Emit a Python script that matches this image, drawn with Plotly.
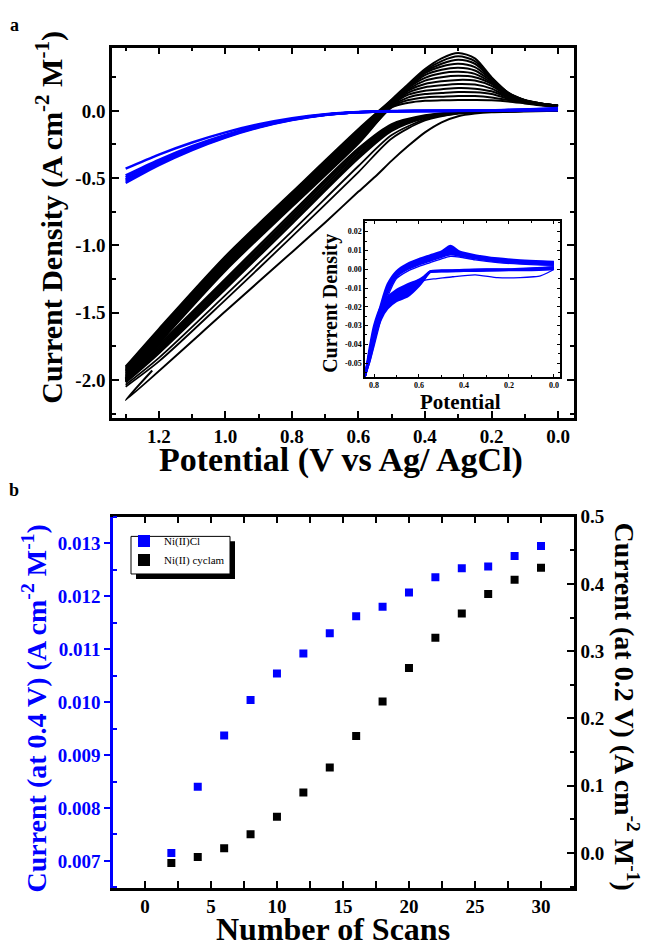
import plotly.graph_objects as go

# ---------------- Panel a : main CVs (Potential V vs Ag/AgCl, current density) ----------------
# Ni(II) cyclam return scans (band with anodic peaks), potential grid
VA = [1.30, 1.20, 1.00, 0.80, 0.60, 0.50, 0.45, 0.40, 0.35, 0.30, 0.25, 0.20, 0.15, 0.10, 0.05, 0.00]
cyc_return = [
    [-1.900, -1.620, -1.080, -0.605, -0.135, 0.085, 0.200, 0.310, 0.390, 0.430, 0.390, 0.250, 0.135, 0.080, 0.055, 0.040],
    [-1.909, -1.629, -1.089, -0.614, -0.144, 0.080, 0.190, 0.300, 0.370, 0.405, 0.370, 0.245, 0.135, 0.080, 0.055, 0.040],
    [-1.918, -1.638, -1.098, -0.623, -0.153, 0.075, 0.185, 0.290, 0.350, 0.380, 0.350, 0.240, 0.130, 0.080, 0.055, 0.040],
    [-1.927, -1.647, -1.107, -0.632, -0.162, 0.070, 0.180, 0.280, 0.330, 0.350, 0.325, 0.230, 0.130, 0.078, 0.053, 0.038],
    [-1.936, -1.656, -1.116, -0.641, -0.171, 0.065, 0.175, 0.265, 0.305, 0.320, 0.300, 0.220, 0.125, 0.077, 0.052, 0.037],
    [-1.945, -1.665, -1.125, -0.650, -0.180, 0.060, 0.170, 0.245, 0.280, 0.290, 0.275, 0.210, 0.120, 0.075, 0.050, 0.036],
    [-1.954, -1.674, -1.134, -0.659, -0.189, 0.055, 0.160, 0.225, 0.250, 0.260, 0.250, 0.200, 0.115, 0.072, 0.049, 0.035],
    [-1.963, -1.683, -1.143, -0.668, -0.198, 0.050, 0.150, 0.200, 0.220, 0.230, 0.225, 0.185, 0.110, 0.070, 0.048, 0.034],
    [-1.972, -1.692, -1.152, -0.677, -0.207, 0.045, 0.135, 0.175, 0.190, 0.200, 0.195, 0.165, 0.105, 0.068, 0.046, 0.033],
    [-1.981, -1.701, -1.161, -0.686, -0.216, 0.040, 0.120, 0.150, 0.160, 0.170, 0.165, 0.145, 0.100, 0.066, 0.045, 0.032],
    [-1.990, -1.710, -1.170, -0.695, -0.225, 0.035, 0.100, 0.125, 0.133, 0.140, 0.138, 0.125, 0.090, 0.063, 0.044, 0.031],
    [-1.999, -1.719, -1.179, -0.704, -0.234, 0.030, 0.080, 0.100, 0.105, 0.110, 0.110, 0.100, 0.080, 0.060, 0.043, 0.030],
    [-2.008, -1.728, -1.188, -0.713, -0.243, 0.025, 0.060, 0.075, 0.078, 0.080, 0.080, 0.078, 0.070, 0.055, 0.040, 0.030],
]
# Ni(II) cyclam forward scans (lower band: dense bundle + two thinner lines)
VB = [0.00, 0.10, 0.20, 0.30, 0.40, 0.50, 0.60, 0.80, 1.00, 1.20, 1.30]
cyc_forward = [
    [0.005, 0.002, -0.002, -0.010, -0.035, -0.100, -0.280, -0.758, -1.251, -1.740, -1.990],
    [0.004, 0.001, -0.003, -0.011, -0.040, -0.112, -0.298, -0.778, -1.269, -1.755, -1.997],
    [0.004, 0.001, -0.003, -0.012, -0.044, -0.124, -0.316, -0.798, -1.287, -1.770, -2.004],
    [0.003, 0.000, -0.004, -0.013, -0.048, -0.136, -0.334, -0.818, -1.305, -1.785, -2.011],
    [0.003, 0.000, -0.004, -0.014, -0.052, -0.148, -0.352, -0.838, -1.323, -1.800, -2.018],
    [0.001, -0.001, -0.005, -0.018, -0.064, -0.180, -0.410, -0.895, -1.370, -1.836, -2.036],
    [0.000, -0.002, -0.006, -0.021, -0.072, -0.205, -0.455, -0.935, -1.405, -1.862, -2.050],
]
# first scan of Ni(II) cyclam (out and partial return)
VC = [0.00, 0.10, 0.20, 0.25, 0.30, 0.35, 0.40, 0.45, 0.50, 0.55, 0.60, 0.70, 0.80, 1.00, 1.30, 1.22]
first_scan = [0.000, -0.004, -0.010, -0.020, -0.040, -0.085, -0.160, -0.260, -0.370, -0.490, -0.600, -0.830, -1.050, -1.490, -2.150, -1.930]
# Ni(II)Cl CVs in the main panel
VBl = [1.30, 1.20, 1.10, 1.00, 0.90, 0.80, 0.70, 0.60, 0.50, 0.40, 0.20, 0.00]
nicl_cycles = [
    [-0.430, -0.325, -0.235, -0.160, -0.100, -0.055, -0.025, -0.009, -0.002, 0.000, 0.002, 0.004],
    [-0.480, -0.364, -0.263, -0.179, -0.112, -0.062, -0.028, -0.010, -0.003, -0.001, 0.002, 0.006],
    [-0.495, -0.374, -0.270, -0.184, -0.115, -0.063, -0.029, -0.011, -0.003, -0.001, 0.003, 0.010],
    [-0.510, -0.384, -0.277, -0.189, -0.118, -0.065, -0.030, -0.011, -0.003, -0.001, 0.003, 0.014],
    [-0.520, -0.393, -0.284, -0.194, -0.121, -0.067, -0.030, -0.011, -0.003, -0.001, 0.003, 0.018],
    [-0.535, -0.403, -0.291, -0.198, -0.124, -0.068, -0.031, -0.011, -0.003, -0.001, 0.003, 0.022],
]

# ---------------- Inset : Ni(II)Cl CVs zoomed ----------------
VU = [0.84, 0.82, 0.80, 0.77, 0.74, 0.70, 0.65, 0.60, 0.55, 0.50, 0.46, 0.42, 0.35, 0.25, 0.15, 0.05, 0.00]
inset_upper = [
    [-0.057, -0.044, -0.033, -0.019, -0.008, -0.001, 0.003, 0.0055, 0.0075, 0.0095, 0.0125, 0.0095, 0.0075, 0.0058, 0.0048, 0.0042, 0.0040],
    [-0.057, -0.045, -0.035, -0.021, -0.010, -0.002, 0.002, 0.0045, 0.0065, 0.0085, 0.0110, 0.0088, 0.0070, 0.0053, 0.0043, 0.0037, 0.0035],
    [-0.057, -0.047, -0.037, -0.023, -0.011, -0.003, 0.001, 0.0035, 0.0055, 0.0075, 0.0095, 0.0080, 0.0063, 0.0047, 0.0038, 0.0032, 0.0030],
    [-0.057, -0.049, -0.039, -0.025, -0.013, -0.004, 0.000, 0.0025, 0.0045, 0.0065, 0.0078, 0.0072, 0.0057, 0.0041, 0.0033, 0.0027, 0.0025],
    [-0.057, -0.050, -0.041, -0.027, -0.015, -0.005, -0.001, 0.0015, 0.0035, 0.0055, 0.0068, 0.0065, 0.0050, 0.0035, 0.0027, 0.0022, 0.0020],
]
VL = [0.00, 0.10, 0.20, 0.30, 0.40, 0.50, 0.55, 0.58, 0.60, 0.65, 0.70, 0.74, 0.77, 0.80, 0.82, 0.84]
inset_lower = [
    [0.0010, 0.0005, 0.0000, 0.0000, -0.0003, -0.0006, -0.0010, -0.0040, -0.0055, -0.0080, -0.0110, -0.0150, -0.020, -0.030, -0.042, -0.057],
    [0.0010, 0.0003, -0.0002, -0.0002, -0.0005, -0.0008, -0.0012, -0.0045, -0.0065, -0.0098, -0.0130, -0.0170, -0.022, -0.032, -0.044, -0.057],
    [0.0010, 0.0000, -0.0003, -0.0004, -0.0007, -0.0010, -0.0014, -0.0050, -0.0075, -0.0115, -0.0145, -0.0185, -0.024, -0.034, -0.045, -0.057],
    [0.0005, -0.0003, -0.0004, -0.0006, -0.0009, -0.0011, -0.0015, -0.0055, -0.0085, -0.0130, -0.0160, -0.0200, -0.026, -0.036, -0.047, -0.057],
    [0.0000, -0.0005, -0.0005, -0.0008, -0.0010, -0.0012, -0.0016, -0.0060, -0.0090, -0.0145, -0.0170, -0.0210, -0.027, -0.038, -0.048, -0.057],
]
VF = [0.00, 0.03, 0.06, 0.09, 0.15, 0.25, 0.35, 0.45, 0.52, 0.56, 0.58]
inset_first = [0.0000, -0.0020, -0.0035, -0.0040, -0.0045, -0.0045, -0.0030, -0.0040, -0.0050, -0.0055, -0.0060]

# ---------------- Panel b : current vs number of scans ----------------
scans = [2, 4, 6, 8, 10, 12, 14, 16, 18, 20, 22, 24, 26, 28, 30]
nicl_current = [0.00715, 0.0084, 0.00937, 0.01004, 0.01054, 0.01092, 0.0113, 0.01162, 0.0118,
                0.01207, 0.01236, 0.01253, 0.01256, 0.01276, 0.01295]
cyclam_current = [-0.015, -0.006, 0.007, 0.028, 0.054, 0.090, 0.127, 0.174, 0.225,
                  0.275, 0.320, 0.356, 0.385, 0.406, 0.424]

# tick labels
a_xticks = [0.0, 0.2, 0.4, 0.6, 0.8, 1.0, 1.2]
a_xtext = ["0.0", "0.2", "0.4", "0.6", "0.8", "1.0", "1.2"]
a_yticks = [-2.0, -1.5, -1.0, -0.5, 0.0]
a_ytext = ["-2.0", "-1.5", "-1.0", "-0.5", "0.0"]
in_xticks = [0.0, 0.2, 0.4, 0.6, 0.8]
in_xtext = ["0.0", "0.2", "0.4", "0.6", "0.8"]
in_yticks = [-0.05, -0.04, -0.03, -0.02, -0.01, 0.0, 0.01, 0.02]
in_ytext = ["-0.05", "-0.04", "-0.03", "-0.02", "-0.01", "0.00", "0.01", "0.02"]
b_xticks = [0, 5, 10, 15, 20, 25, 30]
b_yticks_l = [0.007, 0.008, 0.009, 0.010, 0.011, 0.012, 0.013]
b_ytext_l = ["0.007", "0.008", "0.009", "0.010", "0.011", "0.012", "0.013"]
b_yticks_r = [0.0, 0.1, 0.2, 0.3, 0.4, 0.5]
b_ytext_r = ["0.0", "0.1", "0.2", "0.3", "0.4", "0.5"]

BLUE = "#0000FF"
FONT = "Liberation Serif"
W, H = 650, 947

def px(x):
    return x / W

def py(y):
    return 1 - y / H

fig = go.Figure()

def line_trace(xs, ys, color, width, ax, smoothing=0.8, fill=None):
    return go.Scatter(x=xs, y=ys, mode="lines",
                      line=dict(color=color, width=width, shape="spline", smoothing=smoothing),
                      fill=fill, fillcolor=color if fill else None,
                      showlegend=False, hoverinfo="skip", xaxis="x" + ax, yaxis="y" + ax)

# ----- panel a traces -----
for i, ys in enumerate(cyc_forward):
    fig.add_trace(line_trace(VB, ys, "black", 2.4 if i < 5 else 1.8, ""))
fig.add_trace(line_trace(VC, first_scan, "black", 2, "", smoothing=0.6))
for ys in cyc_return:
    fig.add_trace(line_trace(VA, ys, "black", 2, ""))
for ys in nicl_cycles:
    fig.add_trace(line_trace(VBl, ys, BLUE, 2.5, ""))

# ----- inset traces (bands filled between their outer cycles) -----
fig.add_trace(line_trace(VU, inset_upper[0], BLUE, 2, "2", 0.7))
fig.add_trace(line_trace(VU, inset_upper[3], BLUE, 2, "2", 0.7, fill="tonexty"))
for ys in (inset_upper[1], inset_upper[2]):
    fig.add_trace(line_trace(VU, ys, BLUE, 2, "2", 0.7))
fig.add_trace(line_trace(VU, inset_upper[4], BLUE, 1.3, "2", 0.7))
fig.add_trace(line_trace(VL, inset_lower[0], BLUE, 2, "2", 0.6))
fig.add_trace(line_trace(VL, inset_lower[4], BLUE, 2, "2", 0.6, fill="tonexty"))
for ys in inset_lower[1:4]:
    fig.add_trace(line_trace(VL, ys, BLUE, 2, "2", 0.6))
fig.add_trace(line_trace(VF, inset_first, BLUE, 1.3, "2", 0.6))

# ----- panel b traces -----
fig.add_trace(go.Scatter(x=scans, y=nicl_current, mode="markers", name="Ni(II)Cl",
                         marker=dict(symbol="square", size=8, color=BLUE), xaxis="x3", yaxis="y3"))
fig.add_trace(go.Scatter(x=scans, y=cyclam_current, mode="markers", name="Ni(II) cyclam",
                         marker=dict(symbol="square", size=8, color="black"), xaxis="x3", yaxis="y4"))

tickf = dict(family=FONT, size=19, color="black", weight="bold")
common = dict(showgrid=False, zeroline=False, showline=True, linecolor="black", linewidth=2.5,
              ticks="inside", ticklen=7, tickwidth=2, tickcolor="black")
inset_common = dict(showgrid=False, zeroline=False, showline=True, linecolor="black", linewidth=1.5,
                    ticks="inside", ticklen=3, tickwidth=1, tickcolor="black",
                    tickfont=dict(family=FONT, size=8, color="black", weight="bold"))

fig.update_layout(
    width=W, height=H, margin=dict(l=0, r=0, t=0, b=0),
    paper_bgcolor="white", plot_bgcolor="white",
    xaxis=dict(domain=[px(112), px(574)], range=[1.341, -0.048], anchor="y", mirror="allticks",
               tickmode="array", tickvals=a_xticks, ticktext=a_xtext, tickfont=tickf,
               minor=dict(tickmode="linear", tick0=0.1, dtick=0.2, ticks="inside", ticklen=4, tickwidth=2, tickcolor="black"),
               **common),
    yaxis=dict(domain=[py(412), py(38)], range=[-2.28, 0.47], anchor="x", mirror="allticks",
               tickmode="array", tickvals=a_yticks, ticktext=a_ytext, tickfont=tickf,
               minor=dict(tickmode="linear", tick0=-0.25, dtick=0.5, ticks="inside", ticklen=4, tickwidth=2, tickcolor="black"),
               **common),
    xaxis2=dict(domain=[px(365), px(560)], range=[0.84, -0.027], anchor="y2", mirror="allticks",
                tickmode="array", tickvals=in_xticks, ticktext=in_xtext,
                minor=dict(tickmode="linear", tick0=0.1, dtick=0.2, ticks="inside", ticklen=2, tickwidth=1, tickcolor="black"),
                ticklabelstandoff=0, **inset_common),
    yaxis2=dict(domain=[py(371), py(213)], range=[-0.0574, 0.0258], anchor="x2", mirror="allticks",
                tickmode="array", tickvals=in_yticks, ticktext=in_ytext,
                minor=dict(tickmode="linear", tick0=0.005, dtick=0.01, ticks="inside", ticklen=2, tickwidth=1, tickcolor="black"),
                **inset_common),
    xaxis3=dict(domain=[px(113), px(574)], range=[-2.42, 32.5], anchor="y3", mirror="allticks",
                tickmode="array", tickvals=b_xticks, tickfont=tickf,
                minor=dict(tickmode="linear", tick0=2.5, dtick=5, ticks="inside", ticklen=4, tickwidth=2, tickcolor="black"),
                **common),
    yaxis3=dict(domain=[py(887), py(512)], range=[0.006495, 0.013505], anchor="x3", mirror=False,
                tickmode="array", tickvals=b_yticks_l, ticktext=b_ytext_l,
                tickfont=dict(family=FONT, size=19, color=BLUE, weight="bold"),
                minor=dict(tickmode="linear", tick0=0.0065, dtick=0.001, ticks="inside", ticklen=4, tickwidth=2, tickcolor=BLUE),
                showgrid=False, zeroline=False, showline=True, linecolor=BLUE, linewidth=2.5,
                ticks="outside", ticklen=6, tickwidth=2, tickcolor=BLUE),
    yaxis4=dict(domain=[py(887), py(512)], range=[-0.0515, 0.5], anchor="x3", overlaying="y3", side="right",
                tickmode="array", tickvals=b_yticks_r, ticktext=b_ytext_r, tickfont=tickf,
                minor=dict(tickmode="linear", tick0=0.05, dtick=0.1, ticks="inside", ticklen=4, tickwidth=2, tickcolor="black"),
                **common),
    legend=dict(x=px(124), y=py(522), xanchor="left", yanchor="top", bgcolor="rgba(0,0,0,0)",
                borderwidth=0, font=dict(family=FONT, size=11, color="black"),
                tracegroupgap=0, itemsizing="constant", traceorder="normal"),
    showlegend=True,
)

ann = []
def add_text(text, x, y, size, color="black", angle=0, bold=True):
    ann.append(dict(text=text, x=px(x), y=py(y), xref="paper", yref="paper", showarrow=False,
                    xanchor="center", yanchor="middle", textangle=angle,
                    font=dict(family=FONT, size=size, color=color, weight="bold" if bold else "normal")))

add_text("a", 14, 15, 18)
add_text("b", 14, 485, 18)
add_text("Potential (V vs Ag/ AgCl)", 341, 455, 34)
add_text("Current Density (A cm<sup>-2</sup> M<sup>-1</sup>)", 50, 210, 30, angle=-90)
add_text("Potential", 460, 396, 21)
add_text("Current Density", 331, 297, 20, angle=-90)
add_text("Number of Scans", 333, 929, 32)
add_text("Current (at 0.4 V) (A cm<sup>-2</sup> M<sup>-1</sup>)", 35, 706, 28, color=BLUE, angle=-90)
add_text("Current (at 0.2 V) (A cm<sup>-2</sup> M<sup>-1</sup>)", 626, 704, 28, angle=90)
fig.update_layout(annotations=ann)

# legend frame with drop shadow (drawn under the transparent legend)
fig.add_shape(type="rect", xref="paper", yref="paper", x0=px(136), x1=px(235), y0=py(575), y1=py(537),
              fillcolor="black", line=dict(width=0), layer="above")
fig.add_shape(type="rect", xref="paper", yref="paper", x0=px(131), x1=px(230), y0=py(570), y1=py(532),
              fillcolor="white", line=dict(color="black", width=1), layer="above")

fig.write_html("out.html", config={"displayModeBar": False},
               post_script="document.body.style.margin='0px';")
